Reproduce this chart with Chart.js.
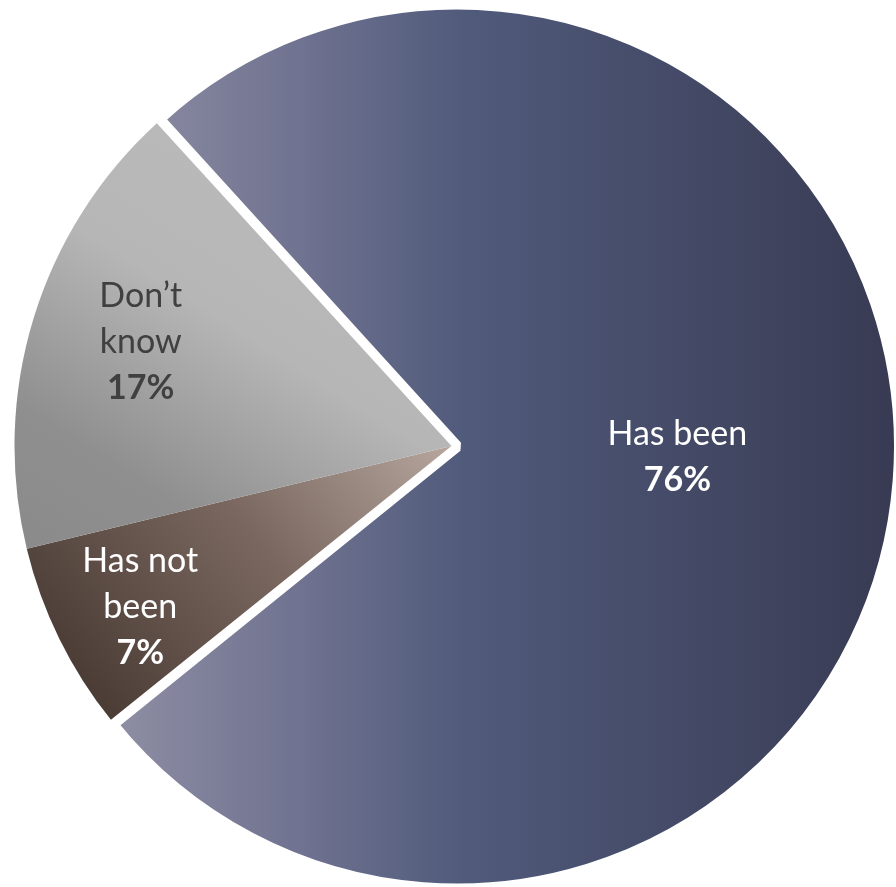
<!DOCTYPE html>
<html>
<head>
<meta charset="utf-8">
<script src="https://cdn.jsdelivr.net/npm/chart.js@4.4.0/dist/chart.umd.min.js"></script>
<style>
  html, body { margin: 0; padding: 0; background: #ffffff; }
  #wrap { position: relative; width: 896px; height: 887px; }
</style>
</head>
<body>
<div id="wrap"><canvas id="pieChart"></canvas></div>
<script>
// data
const categories = [['Has been'], ['Has not', 'been'], ['Don\u2019t', 'know']];
const shares = [76, 7, 17];

// label placement along each slice's middle, as a fraction of the radius, plus a small nudge
const labelDepth = [0.5, 0.79, 0.74];
const labelNudge = [[2.5, -6], [-1.5, 9], [-1.5, -9]];
const labelColors = ['#ffffff', '#ffffff', '#404040'];

function sliceFill(context) {
    const chart = context.chart;
    const c = chart.ctx;
    if (!chart.chartArea) return '#888888';
    let g;
    if (context.dataIndex === 0) {
        g = c.createLinearGradient(120, 0, 896, 0);
        g.addColorStop(0, '#8c8ca2');
        g.addColorStop(0.23, '#6f7290');
        g.addColorStop(0.44, '#505a7b');
        g.addColorStop(1, '#383a52');
    } else if (context.dataIndex === 1) {
        g = c.createLinearGradient(445, 445, 90, 730);
        g.addColorStop(0, '#b5a59d');
        g.addColorStop(0.45, '#7a6860');
        g.addColorStop(1, '#463831');
    } else {
        g = c.createLinearGradient(300, 120, 20, 560);
        g.addColorStop(0, '#bbbbbb');
        g.addColorStop(0.4, '#b6b6b6');
        g.addColorStop(0.75, '#8f8f8f');
        g.addColorStop(1, '#8a8a8a');
    }
    return g;
}

const sliceLabels = {
    id: 'sliceLabels',
    afterDatasetsDraw(chart) {
        const ctx = chart.ctx;
        const meta = chart.getDatasetMeta(0);
        const offsets = chart.data.datasets[0].offset;
        meta.data.forEach((arc, i) => {
            const p = arc.getProps(['x', 'y', 'startAngle', 'endAngle', 'outerRadius'], true);
            const mid = (p.startAngle + p.endAngle) / 2;
            // chart.js moves an offset arc by a quarter of its offset
            const shift = (offsets[i] || 0) / 4;
            const r = p.outerRadius * labelDepth[i] + shift;
            const cx = p.x + Math.cos(mid) * r + labelNudge[i][0];
            const cy = p.y + Math.sin(mid) * r + labelNudge[i][1];
            const lines = categories[i];
            const lineH = 46;
            const top = cy - lines.length * lineH / 2;
            ctx.save();
            ctx.fillStyle = labelColors[i];
            ctx.textAlign = 'center';
            ctx.textBaseline = 'middle';
            ctx.font = '34px Lato, "Open Sans", sans-serif';
            lines.forEach((t, k) => ctx.fillText(t, cx, top + k * lineH));
            ctx.font = 'bold 34px Lato, "Open Sans", sans-serif';
            ctx.fillText(shares[i] + '%', cx, top + lines.length * lineH);
            ctx.restore();
        });
    }
};

new Chart(document.getElementById('pieChart'), {
    type: 'pie',
    data: {
        labels: categories.map(l => l.join(' ')),
        datasets: [{
            data: shares,
            backgroundColor: sliceFill,
            // white rim on the pulled-out slice keeps its radius equal to the others
            borderColor: '#ffffff',
            borderWidth: [11, 0, 0],
            offset: [22, 0, 0],
            hoverOffset: 0,
            clip: false
        }]
    },
    options: {
        responsive: true,
        maintainAspectRatio: false,
        animation: false,
        rotation: -42.4,
        radius: 437,
        layout: { padding: { top: 5, left: 7 } },
        plugins: {
            legend: { display: false },
            tooltip: { enabled: false }
        }
    },
    plugins: [sliceLabels]
});
</script>
</body>
</html>
